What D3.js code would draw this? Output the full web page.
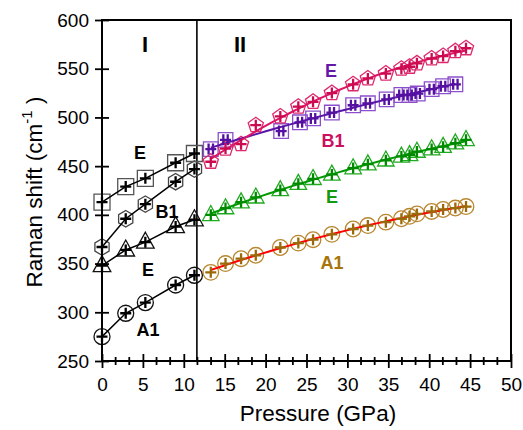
<!DOCTYPE html>
<html><head><meta charset="utf-8">
<script src="https://cdn.jsdelivr.net/npm/d3@7"></script>
<style>body{margin:0;background:#fff}svg{display:block}text{font-family:"Liberation Sans",Arial,sans-serif}</style>
</head><body><svg id="c" width="523" height="430"></svg>
<script>
// ---- data ----
const xTicks=[0,5,10,15,20,25,30,35,40,45,50];
const yTicks=[250,300,350,400,450,500,550,600];
const phaseBoundary=11.6;

const p1X=[0,2.9,5.3,9.0,11.3];
const p1A1=[275,299,310,328,338];
const p1E_low=[348,364,372,388,395];
const p1B1=[367,396,411,434,447];
const p1E_high=[413,429,437.5,453.5,463];

const p2X=[13.3,15.1,17.0,18.8,21.8,24.0,25.8,28.1,30.7,32.5,34.7,36.6,37.6,38.5,40.3,41.7,43.2,44.5];
const p2A1=[341,350,355,358.5,366.5,371,374.5,380,385.5,389,392.5,396,398.5,401,403.5,405.5,407,408.5];
const p2E_green=[400,407,413,418,425.5,432,437,441.5,448,452,456,460,461.5,465,467.5,470,473.5,477];
const p2E_mag=[454.5,468,472.5,492,501,511,516,525,534,540,545,550,552,555.5,560.5,563,568,571];
const p2B1X=[13.3,15.1,21.9,24.2,25.8,28.1,30.7,32.5,34.8,36.6,37.6,38.6,40.3,41.7,43.2];
const p2B1=[467.5,477,486,495,499,505,512.5,514.5,518.5,523,523,524.5,529,532,534];

// ---- layout ----
const svg=d3.select("#c");
const L=102,R=511,T=20,B=361;
const x=d3.scaleLinear().domain([0,50]).range([L,R]);
const y=d3.scaleLinear().domain([250,600]).range([B,T]);

function poly(n,r,rot){let p=[];for(let i=0;i<n;i++){const a=rot+i*2*Math.PI/n;p.push([r*Math.cos(a),r*Math.sin(a)]);}return "M"+p.map(d=>d.join(",")).join("L")+"Z";}
const shapes={
  square:s=>`M${-s},${-s}H${s}V${s}H${-s}Z`,
  circle:r=>`M${r},0A${r},${r} 0 1,1 ${-r},0A${r},${r} 0 1,1 ${r},0Z`,
  hex:r=>poly(6,r,-Math.PI/2),
  pent:r=>poly(5,r,-Math.PI/2),
  tri:w=>`M0,${-w*0.62}L${w*0.55},${w*0.38}L${-w*0.55},${w*0.38}Z`
};
const plus=a=>`M${-a},0H${a}M0,${-a}V${a}`;
const dplus=a=>`M${-a},0H${a}M-2.2,${-a}V${a}M2.2,${-a}V${a}`;

svg.append("line").attr("x1",x(phaseBoundary)).attr("x2",x(phaseBoundary)).attr("y1",T).attr("y2",B).attr("stroke","#000").attr("stroke-width",1.6);

const series=[
  {xs:p1X,ys:p1A1,shape:"circle",sz:8,stroke:"#111",plusC:"#000",line:"#000",lw:1.5,fit:false,pl:plus},
  {xs:p1X,ys:p1E_low,shape:"tri",sz:16,stroke:"#111",plusC:"#000",line:"#000",lw:1.5,fit:false,pl:plus},
  {xs:p1X,ys:p1B1,shape:"hex",sz:8.2,stroke:"#444",plusC:"#000",line:"#000",lw:1.5,fit:false,pl:plus},
  {xs:p1X,ys:p1E_high,shape:"square",sz:8,stroke:"#555",plusC:"#000",line:"#000",lw:1.5,fit:false,pl:plus},
  {xs:p2X,ys:p2A1,shape:"circle",sz:7.8,stroke:"#b8862e",plusC:"#9a6a08",line:"#ff0000",lw:2,fit:true,pl:plus},
  {xs:p2X,ys:p2E_green,shape:"tri",sz:15,stroke:"#22aa22",plusC:"#008a00",line:"#009900",lw:2,fit:true,pl:plus},
  {xs:p2B1X,ys:p2B1,shape:"square",sz:7.3,stroke:"#8c4fcc",plusC:"#5410a0",line:"#5a14a8",lw:2,fit:true,pl:dplus},
  {xs:p2X,ys:p2E_mag,shape:"pent",sz:8,stroke:"#dd2a6e",plusC:"#cc0a50",line:"#dc1464",lw:2,fit:true,pl:plus}
];

function quadFit(xs,ys){
  let S=[0,0,0,0,0],Ty=[0,0,0];
  xs.forEach((xv,i)=>{let p=1;for(let k=0;k<5;k++){S[k]+=p;p*=xv;} Ty[0]+=ys[i];Ty[1]+=ys[i]*xv;Ty[2]+=ys[i]*xv*xv;});
  const M=[[S[0],S[1],S[2],Ty[0]],[S[1],S[2],S[3],Ty[1]],[S[2],S[3],S[4],Ty[2]]];
  for(let i=0;i<3;i++){for(let j=i+1;j<3;j++){const f=M[j][i]/M[i][i];for(let k=i;k<4;k++)M[j][k]-=f*M[i][k];}}
  const c=[0,0,0];for(let i=2;i>=0;i--){let s=M[i][3];for(let k=i+1;k<3;k++)s-=M[i][k]*c[k];c[i]=s/M[i][i];}
  return xv=>c[0]+c[1]*xv+c[2]*xv*xv;
}

const lineGen=d3.line().x(d=>x(d[0])).y(d=>y(d[1]));
series.forEach(s=>{
  const pts=s.xs.map((v,i)=>[v,s.ys[i]]);
  let lpts=pts;
  if(s.fit){const f=quadFit(s.xs,s.ys);const x0=s.xs[0],x1=s.xs[s.xs.length-1];lpts=d3.range(0,41).map(i=>{const xv=x0+(x1-x0)*i/40;return [xv,f(xv)];});}
  s.lpts=lpts;s.pts=pts;
});
series.forEach(s=>{
  svg.append("g").selectAll("path").data(s.pts).join("path")
    .attr("transform",d=>`translate(${x(d[0])},${y(d[1])})`)
    .attr("d",shapes[s.shape](s.sz)).attr("fill","none").attr("stroke",s.stroke).attr("stroke-width",1.3);
});
series.forEach(s=>{
  svg.append("path").attr("d",lineGen(s.lpts)).attr("fill","none").attr("stroke",s.line).attr("stroke-width",s.lw);
});
series.forEach(s=>{
  svg.append("g").selectAll("path").data(s.pts).join("path")
    .attr("transform",d=>`translate(${x(d[0])},${y(d[1])})`)
    .attr("d",s.pl(5.5)).attr("fill","none").attr("stroke",s.plusC).attr("stroke-width",2.3);
});

svg.append("rect").attr("x",L).attr("y",T).attr("width",R-L).attr("height",B-T).attr("fill","none").attr("stroke","#000").attr("stroke-width",2);

const minorX=d3.range(0,50.001,5/3).filter(v=>Math.abs(v/5-Math.round(v/5))>1e-6);
const gx=svg.append("g").attr("transform",`translate(0,${B})`).call(d3.axisBottom(x).tickValues(xTicks).tickSize(0).tickPadding(17));
gx.select(".domain").remove();
gx.selectAll(".tick line").attr("y1",-7).attr("y2",7).attr("stroke-width",1.8);
gx.selectAll("text").attr("font-size",19).attr("font-family","Liberation Sans, Arial, sans-serif");
svg.append("g").selectAll("line").data(minorX).join("line").attr("x1",d=>x(d)).attr("x2",d=>x(d)).attr("y1",B-4).attr("y2",B+4).attr("stroke","#000").attr("stroke-width",1.8);

const gy=svg.append("g").attr("transform",`translate(${L},0)`).call(d3.axisLeft(y).tickValues(yTicks).tickSize(0).tickPadding(13));
gy.select(".domain").remove();
gy.selectAll(".tick line").attr("x1",-7).attr("x2",7).attr("stroke-width",1.8);
gy.selectAll("text").attr("font-size",19).attr("font-family","Liberation Sans, Arial, sans-serif");

svg.append("text").attr("x",318).attr("y",421).attr("text-anchor","middle").attr("font-size",22.5).text("Pressure (GPa)");
const yt=svg.append("text").attr("transform","translate(42,192) rotate(-90)").attr("text-anchor","middle").attr("font-size",22.5);
yt.append("tspan").text("Raman shift (cm");
yt.append("tspan").attr("dy",-10).attr("font-size",15).text("-1");
yt.append("tspan").attr("dy",10).text(" )");

const labels=[
  {t:"I",x:145,y:44,c:"#000",fs:22},{t:"II",x:240,y:44,c:"#000",fs:22},
  {t:"E",x:140,y:153,c:"#000",fs:18},{t:"B1",x:167,y:212,c:"#000",fs:18},
  {t:"E",x:148,y:270,c:"#000",fs:18},{t:"A1",x:148,y:330,c:"#000",fs:18},
  {t:"E",x:331,y:71,c:"#6418a8",fs:18},{t:"B1",x:333,y:141,c:"#cc1060",fs:18},
  {t:"E",x:332,y:197,c:"#119911",fs:18},{t:"A1",x:332,y:263,c:"#a8740c",fs:18}
];
svg.append("g").selectAll("text").data(labels).join("text")
  .attr("x",d=>d.x).attr("y",d=>d.y).attr("dy","0.36em").attr("text-anchor","middle")
  .attr("font-weight","bold").attr("font-size",d=>d.fs).attr("fill",d=>d.c).text(d=>d.t);
</script></body></html>
